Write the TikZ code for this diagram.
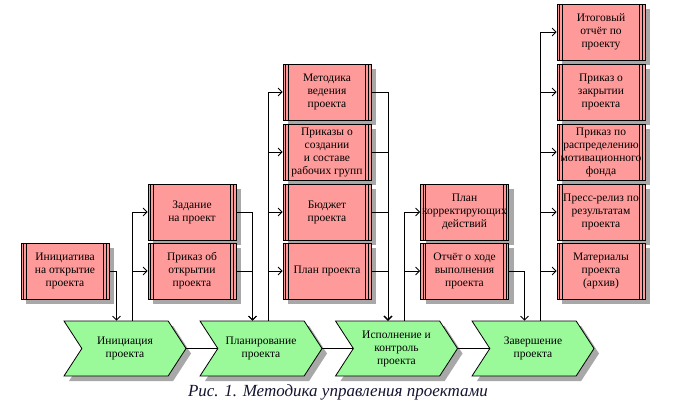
\documentclass[tikz,border=0pt]{standalone}
\usepackage{fontspec}
\setmainfont{Liberation Serif}
\usetikzlibrary{arrows.meta,shapes.symbols,shadows}
\definecolor{docpink}{HTML}{FF9A9A}
\definecolor{phasegreen}{HTML}{9AFA9A}
\definecolor{shadegray}{HTML}{A8A8A8}
\definecolor{capnavy}{HTML}{141430}

\begin{document}
\begin{tikzpicture}[
    x=1pt, y=-1pt,
    >={Straight Barb[length=4pt,width=8pt]},
    doc/.style={
        draw,
        fill=docpink,
        line width=0.8pt,
        minimum width=88pt,
        minimum height=56pt,
        inner sep=0pt,
        align=center,
        font=\fontsize{11.5}{13}\selectfont,
        drop shadow={shadow xshift=5pt,shadow yshift=-5pt,fill=shadegray,opacity=1},
        path picture={
            \foreach \d in {2.6,5.2}{
                \draw[line width=0.8pt] ([xshift=\d pt]path picture bounding box.north west) -- ([xshift=\d pt]path picture bounding box.south west);
                \draw[line width=0.8pt] ([xshift=-\d pt]path picture bounding box.north east) -- ([xshift=-\d pt]path picture bounding box.south east);
            }
        }
    },
    phase/.style={
        signal,
        signal from=west,
        signal to=east,
        signal pointer angle=114,
        draw,
        fill=phasegreen,
        line width=0.8pt,
        minimum width=122pt,
        minimum height=55pt,
        inner sep=0pt,
        align=center,
        font=\fontsize{11.5}{13}\selectfont,
        drop shadow={shadow xshift=5pt,shadow yshift=-5pt,fill=shadegray,opacity=1}
    },
    flow/.style={->,line width=0.8pt},
    link/.style={line width=0.8pt}
]
\useasboundingbox (0,0) rectangle (677,414);

% Phases of the project
\node[phase] (ph1) at (125,348.5) {Инициация\\проекта};
\node[phase] (ph2) at (261,348.5) {Планирование\\проекта};
\node[phase] (ph3) at (396.5,348.5) {Исполнение и\\контроль\\проекта};
\node[phase] (ph4) at (533,348.5) {Завершение\\проекта};

% Documents of each phase
\node[doc] (init) at (65,271) {Инициатива\\на открытие\\проекта};

\node[doc] (task) at (192,212) {Задание\\на проект};
\node[doc] (open) at (192,271) {Приказ об\\открытии\\проекта};

\node[doc] (meth) at (327,92) {Методика\\ведения\\проекта};
\node[doc] (teams) at (327,152) {Приказы о\\создании\\и составе\\рабочих групп};
\node[doc] (budget) at (327,212) {Бюджет\\проекта};
\node[doc] (plan) at (327,271) {План проекта};

\node[doc] (fix) at (464.5,212) {План\\корректирующих\\действий};
\node[doc] (report) at (464.5,271) {Отчёт о ходе\\выполнения\\проекта};

\node[doc] (final) at (601,32) {Итоговый\\отчёт по\\проекту};
\node[doc] (close) at (601,92) {Приказ о\\закрытии\\проекта};
\node[doc] (fund) at (601,152) {Приказ по\\распределению\\мотивационного\\фонда};
\node[doc] (press) at (601,212) {Пресс-релиз по\\результатам\\проекта};
\node[doc] (arch) at (601,271) {Материалы\\проекта\\(архив)};

% Caption
\node[font=\fontsize{17}{19}\selectfont\itshape,text=capnavy] (cap) at (338,392) {Рис. 1. Методика управления проектами};

% Phase chain
\draw[link] (ph1.east) -- (ph2.west);
\draw[link] (ph2.east) -- (ph3.west);
\draw[link] (ph3.east) -- (ph4.west);

% Inputs and outputs
\draw[flow] (init.east) -| ([xshift=-8.5pt]ph1.north);
\foreach \b in {task,open}
    \draw[flow] ([xshift=7.5pt]ph1.north) |- (\b.west);
\foreach \b in {task,open}
    \draw[flow] (\b.east) -| ([xshift=-8.5pt]ph2.north);
\foreach \b in {meth,teams,budget,plan}
    \draw[flow] ([xshift=7.5pt]ph2.north) |- (\b.west);
\foreach \b in {meth,teams,budget,plan}
    \draw[flow] (\b.east) -| ([xshift=-8.5pt]ph3.north);
\foreach \b in {fix,report}
    \draw[flow] ([xshift=7.5pt]ph3.north) |- (\b.west);
\draw[flow] (report.east) -| ([xshift=-8.5pt]ph4.north);
\foreach \b in {final,close,fund,press,arch}
    \draw[flow] ([xshift=7.5pt]ph4.north) |- (\b.west);

\end{tikzpicture}
\end{document}
